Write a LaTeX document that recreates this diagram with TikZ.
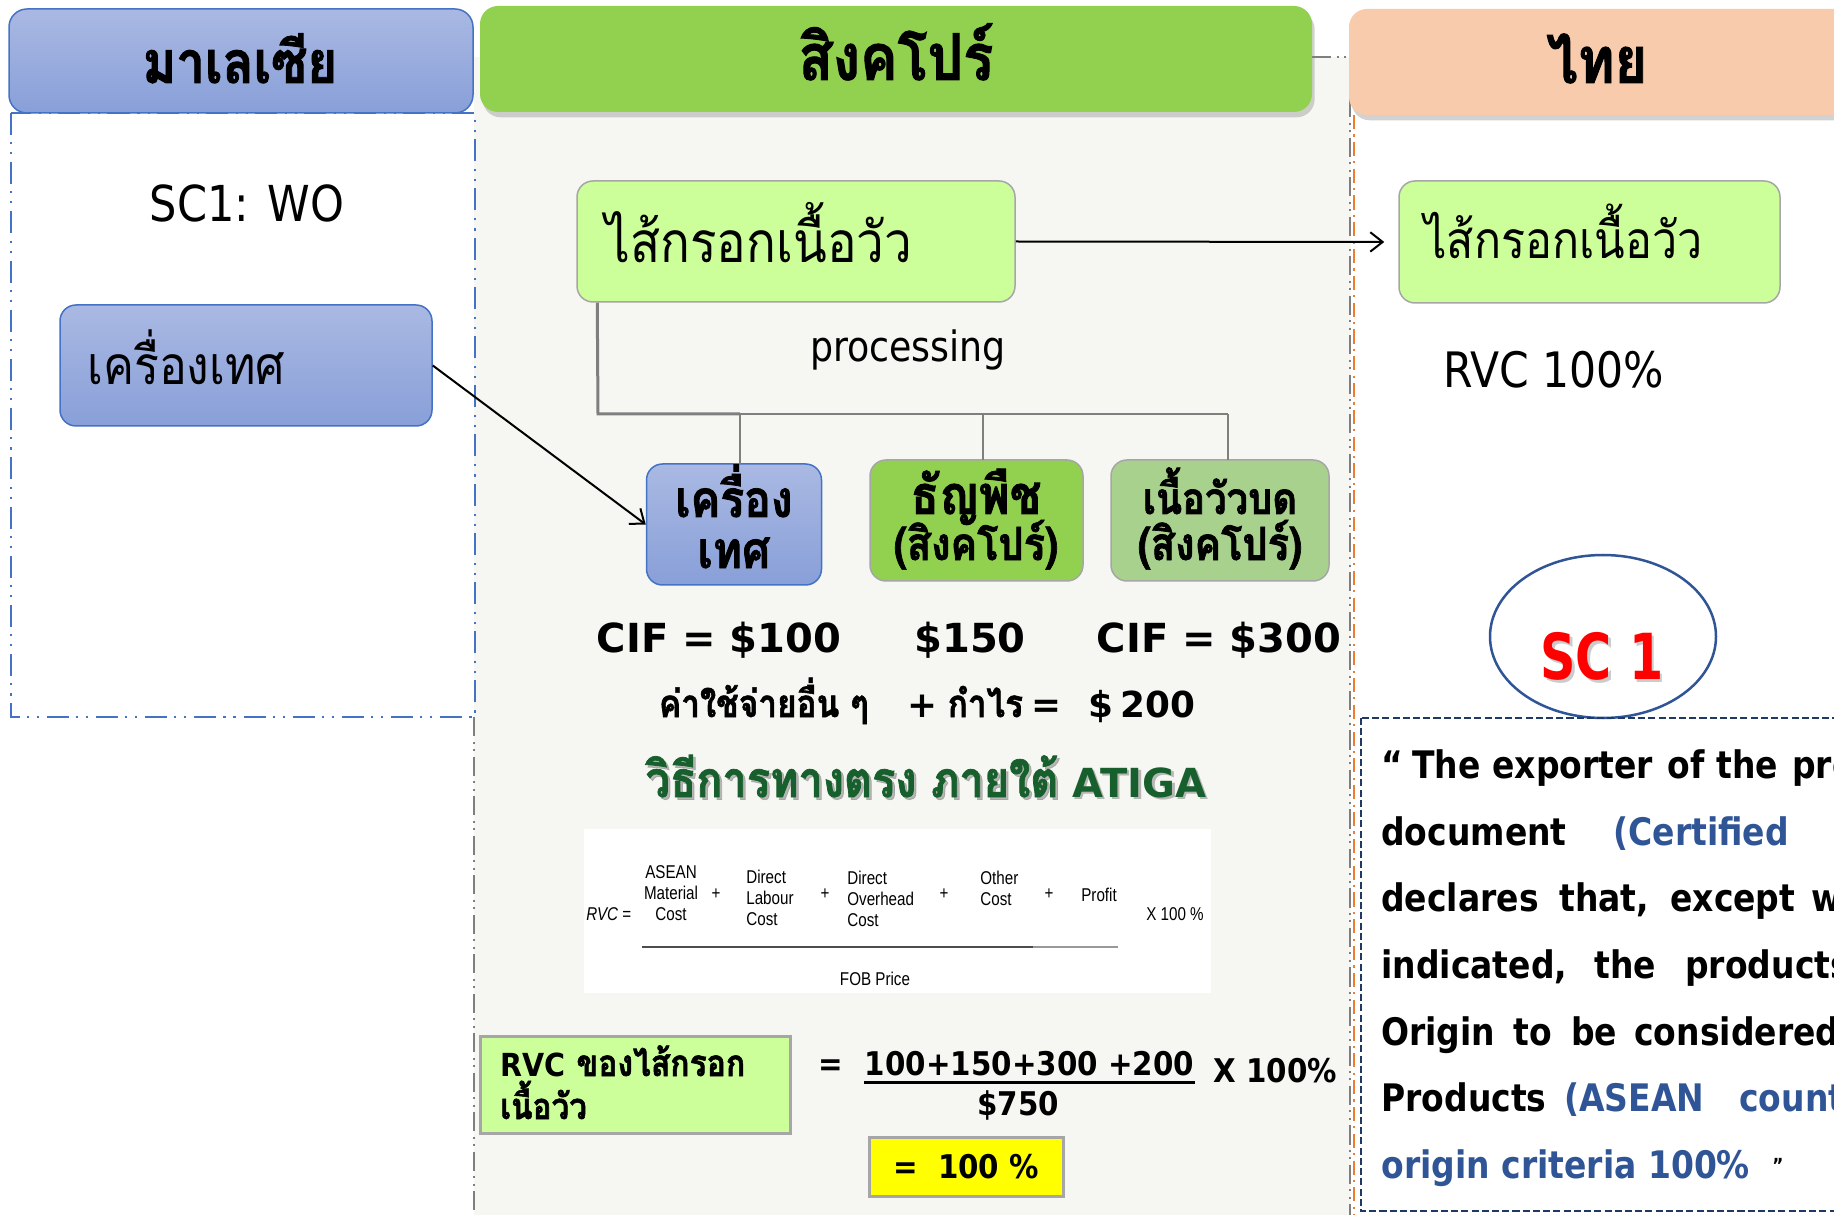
\documentclass[tikz,border=0pt]{standalone}
\usepackage{fontspec}
\usetikzlibrary{arrows.meta,shadows,calc,shapes.geometric}
\setmainfont{DejaVu Sans}
\newfontfamily\thaiF[Script=Thai,FakeStretch=0.87,BoldFeatures={FakeBold=1.5}]{Loma}
\newfontfamily\dvb{DejaVu Sans}
\newfontfamily\dvn[FakeStretch=0.9]{DejaVu Sans}
\newfontfamily\dvc[FakeStretch=0.87]{DejaVu Sans}
\newfontfamily\dvs[FakeStretch=0.775]{DejaVu Sans}
\newfontfamily\nar[FakeStretch=0.82]{Liberation Sans}
\newdimen\PX \PX=0.567pt
\newcommand\fsz[2]{\fontsize{#1pt}{#2pt}\selectfont}
\definecolor{myTop}{HTML}{AAB9E3}
\definecolor{myBot}{HTML}{889FD8}
\definecolor{myLine}{HTML}{4472C4}
\definecolor{sgGreen}{HTML}{92D050}
\definecolor{thPeach}{HTML}{F8CBAD}
\definecolor{limeF}{HTML}{CCFF99}
\definecolor{beefF}{HTML}{A9D18E}
\definecolor{colBg}{HTML}{F6F7F2}
\definecolor{atigaG}{HTML}{17602D}
\definecolor{navyT}{HTML}{2F5597}
\definecolor{navyD}{HTML}{203864}
\definecolor{boxGrey}{HTML}{A6A6A6}
\definecolor{lineGrey}{HTML}{7F7F7F}
\definecolor{orangeL}{HTML}{ED7D31}
\definecolor{yellowF}{HTML}{FFFF00}
\begin{document}
\begin{tikzpicture}[x=0.567pt,y=-0.567pt,
  every node/.style={inner sep=0pt},
  hdr/.style={rounded corners=18*\PX, inner sep=0pt},
  shade/.style={drop shadow={shadow xshift=1.5pt, shadow yshift=-3pt, opacity=0.35}},
  bluebox/.style={draw=myLine, line width=1.5*\PX, top color=myTop, bottom color=myBot, rounded corners=16*\PX},
  limebox/.style={draw=boxGrey, line width=1.5*\PX, fill=limeF, rounded corners=16*\PX},
  bdd/.style={draw=myLine, line width=2*\PX, dash pattern=on 12.5pt off 4pt on 1.2pt off 4.5pt on 1.2pt off 4.5pt},
  gdd/.style={draw=lineGrey, line width=2*\PX, dash pattern=on 11pt off 3pt on 1.2pt off 3pt on 1.2pt off 3pt},
  odd/.style={draw=orangeL, line width=2*\PX, dash pattern=on 8pt off 3pt on 1.2pt off 3pt},
  arr/.style={line width=2*\PX, -{Straight Barb[length=7pt,width=11pt]}},
  tree/.style={draw=lineGrey, line width=1.6*\PX},
  treeT/.style={draw=lineGrey, line width=3*\PX},
  hdrT/.style={anchor=base, font=\thaiF\bfseries\fsz{36.5}{40}},
  pw/.style={anchor=base west, font=\dvc\bfseries\fsz{21.5}{26}},
  pb/.style={pw, text=navyT},
  fm/.style={font=\nar\fsz{10.5}{11.9}}
]
\useasboundingbox (0,0) rectangle (1834,1215);
\clip (0,0) rectangle (1834,1215);
\fill[white] (0,0) rectangle (1834,1215);
\fill[colBg] (474,57) rectangle (1351,1215);
% column frames
\draw[gdd] (474,717) -- (474,1215);
\draw[gdd] (1312,57) -- (1350,57) -- (1350,1215);
\draw[odd] (1354,115) -- (1354,1215);
\draw[bdd] (11,113) rectangle (475,717);
% headers
\node[bluebox, rounded corners=18*\PX, minimum width=464*\PX, minimum height=104*\PX] (myHead) at (241,61) {};
\node[hdr, fill=sgGreen, shade, minimum width=832*\PX, minimum height=106*\PX] (sgHead) at (896,59) {};
\node[hdr, fill=thPeach, shade, minimum width=522*\PX, minimum height=106*\PX] (thHead) at (1610,62) {};
\node[hdrT, font=\thaiF\bfseries\fsz{33.3}{38}] (myHeadT) at (240,83) {มาเลเซีย};
\node[hdrT] (sgHeadT) at (896,80) {สิงคโปร์};
\node[hdrT] (thHeadT) at (1597,83) {ไทย};
% Malaysia column
\node[anchor=base, font=\dvc\fsz{28.1}{34}] (sc1wo) at (247,222) {SC1: WO};
\node[bluebox, minimum width=372*\PX, minimum height=121*\PX] (mySp) at (246,365.5) {};
\node[anchor=base west, font=\thaiF\fsz{30.2}{34}] (mySpT) at (87,385) {เครื่องเทศ};
% Singapore column
\node[limebox, minimum width=438*\PX, minimum height=121*\PX] (sgSaus) at (796,241.5) {};
\node[anchor=base west, font=\thaiF\fsz{32.2}{36}] (sgSausT) at (605,263) {ไส้กรอกเนื้อวัว};
\node[anchor=base, font=\dvc\fsz{23.7}{28}] (proc) at (908,362) {processing};
\coordinate (bus) at (598,414);
\draw[treeT] ([xshift=21*\PX]sgSaus.south west) -- (bus) -- (740,414);
\draw[tree] (740,414) -- (1228,414);
\node[bluebox, minimum width=175*\PX, minimum height=121*\PX] (b1) at (734,524.5) {};
\node[limebox, fill=sgGreen, minimum width=213*\PX, minimum height=121*\PX] (b2) at (976.5,520.5) {};
\node[limebox, fill=beefF, minimum width=218*\PX, minimum height=121*\PX] (b3) at (1220,520.5) {};
\draw[tree] (740,414) -- (740,464);
\draw[tree] (983,414) -- (983,460);
\draw[tree] (1228,414) -- (1228,460);
\node[anchor=base, font=\thaiF\bfseries\fsz{29}{33}] (b1a) at (734,517) {เครื่อง};
\node[anchor=base, font=\thaiF\bfseries\fsz{29}{33}] (b1b) at (734,568) {เทศ};
\node[anchor=base, font=\thaiF\bfseries\fsz{30.5}{34}] (b2a) at (976,514) {ธัญพืช};
\node[anchor=base, font=\thaiF\bfseries\fsz{25.9}{30}] (b2b) at (976,560) {(สิงคโปร์)};
\node[anchor=base, font=\thaiF\bfseries\fsz{24.9}{29}] (b3a) at (1220,514) {เนื้อวัวบด};
\node[anchor=base, font=\thaiF\bfseries\fsz{25.9}{30}] (b3b) at (1220,560) {(สิงคโปร์)};
\draw[arr] (mySp.east) -- (b1.west);
% costs
\node[anchor=base, font=\dvb\bfseries\fsz{22.7}{27}] (cif1) at (719,653) {CIF = \$100};
\node[anchor=base, font=\dvb\bfseries\fsz{22.7}{27}] (c150) at (970,653) {\$150};
\node[anchor=base, font=\dvb\bfseries\fsz{22.7}{27}] (cif3) at (1219,653) {CIF = \$300};
\node[anchor=base, font=\bfseries\fsz{20.3}{24}] (other) at (927,717) {{\thaiF\fsz{21.7}{26}ค่าใช้จ่ายอื่น ๆ}\hspace{22pt}{\dvb +}\hspace{6pt}{\thaiF\fsz{21.7}{26}กำไร}\hspace{5pt}{\dvb =}\hspace{15pt}{\dvb \$}\hspace{4pt}{\dvb 200}};
\node[anchor=base, text=black!45, opacity=0.6, font=\bfseries\fsz{22.7}{27}] (atigaS) at (928.5,799.5) {{\thaiF\fsz{28.2}{32}วิธีการทางตรง ภายใต้} {\dvb ATIGA}};
\node[anchor=base, text=atigaG, font=\bfseries\fsz{22.7}{27}] (atiga) at (926,797) {{\thaiF\fsz{28.2}{32}วิธีการทางตรง ภายใต้} {\dvb ATIGA}};
% formula panel
\fill[white] (584,829) rectangle (1211,993);
\node[fm, anchor=west] (fRVC) at (586,914) {\itshape RVC\upshape\ =};
\node[fm, align=center] (fA) at (671,893) {ASEAN\\Material\\Cost};
\node[fm] (fP1) at (716,894) {+};
\node[fm, align=left, anchor=west] (fB) at (746,898) {Direct\\Labour\\Cost};
\node[fm] (fP2) at (825,894) {+};
\node[fm, align=left, anchor=west] (fC) at (847,899) {Direct\\Overhead\\Cost};
\node[fm] (fP3) at (944,894) {+};
\node[fm, align=left, anchor=west] (fD) at (980,888) {Other\\Cost};
\node[fm] (fP4) at (1049,894) {+};
\node[fm, anchor=west] (fE) at (1081,895) {Profit};
\node[fm, anchor=west] (fX) at (1146,914) {X 100 \%};
\draw[draw=black!70, line width=2.5*\PX] (642,947) -- (1033,947);
\draw[draw=black!40, line width=2.5*\PX] (1033,947) -- (1118,947);
\node[fm] (fFOB) at (875,979) {FOB Price};
% RVC computation
\node[draw=boxGrey, line width=3*\PX, fill=limeF, minimum width=310*\PX, minimum height=97*\PX] (rvcBox) at (635,1085) {};
\node[anchor=base west, font=\bfseries\fsz{18}{22}] (rvcT1) at (500,1076) {{\dvn RVC} {\thaiF\fsz{20.8}{25}ของไส้กรอก}};
\node[anchor=base west, font=\thaiF\bfseries\fsz{20.5}{25}] (rvcT2) at (500,1119) {เนื้อวัว};
\node[anchor=base, font=\dvn\bfseries\fsz{18.5}{22}] (eq1) at (831,1075) {=};
\node[anchor=base, font=\dvn\bfseries\fsz{18.5}{22}] (num) at (1029.5,1075) {100+150+300 +200};
\draw[line width=3*\PX] (864,1082) -- (1195,1082);
\node[anchor=base west, font=\dvn\bfseries\fsz{18.5}{22}] (x100) at (1213,1082) {X 100\%};
\node[anchor=base, font=\dvn\bfseries\fsz{18.5}{22}] (den) at (1018,1115) {\$750};
\node[draw=boxGrey, line width=3*\PX, fill=yellowF, minimum width=194*\PX, minimum height=59*\PX] (yBox) at (966,1166.5) {};
\node[anchor=base, font=\dvn\bfseries\fsz{18.5}{22}] (yT) at (966,1178) {=\ \ 100 \%};
% Thailand column
\node[limebox, minimum width=381*\PX, minimum height=122*\PX] (thSaus) at (1589.5,242) {};
\node[anchor=base west, font=\thaiF\fsz{29.2}{34}] (thSausT) at (1424,259) {ไส้กรอกเนื้อวัว};
\draw[arr, shorten >=14*\PX] (sgSaus.east) -- (thSaus.west);
\node[anchor=base west, font=\dvc\fsz{27.7}{33}] (rvc100) at (1443,388) {RVC 100\%};
\node[draw=navyT, line width=2.5*\PX, ellipse, minimum width=226*\PX, minimum height=163*\PX] (sc1E) at (1603,636.5) {};
\node[anchor=base, text=black!40, opacity=0.5, font=\dvs\bfseries\fsz{36}{40}] (sc1S) at (1604.5,682) {SC 1};
\node[anchor=base, text=red, font=\dvs\bfseries\fsz{36}{40}] (sc1T) at (1602,680) {SC 1};
\draw[navyD, line width=1.5*\PX, dash pattern=on 4pt off 1.8pt] (1361,718) rectangle (1900,1211);
% paragraph
\node[pw] (w11) at (1381,778) {“};
\node[pw] (w12) at (1412,778) {The};
\node[pw] (w13) at (1492,778) {exporter};
\node[pw] (w14) at (1667,778) {of};
\node[pw] (w15) at (1716,778) {the};
\node[pw] (w16) at (1792,778) {pro};
\node[pw] (w21) at (1381,845) {document};
\node[pb] (w22) at (1613,845) {(Certified};
\node[pw] (w31) at (1381,911) {declares};
\node[pw] (w32) at (1559,911) {that,};
\node[pw] (w33) at (1670,911) {except};
\node[pw] (w34) at (1811,911) {w};
\node[pw] (w41) at (1381,978) {indicated,};
\node[pw] (w42) at (1594,978) {the};
\node[pw] (w43) at (1685,978) {products};
\node[pw] (w51) at (1381,1045) {Origin};
\node[pw] (w52) at (1513,1045) {to};
\node[pw] (w53) at (1571,1045) {be};
\node[pw] (w54) at (1634,1045) {considered};
\node[pw] (w61) at (1381,1111) {Products};
\node[pb] (w62) at (1564,1111) {(ASEAN};
\node[pb] (w63) at (1739,1111) {count};
\node[pb] (w71) at (1381,1178) {origin criteria 100\%};
\node[anchor=base west, font=\dvc\bfseries\fsz{11}{13}] (w72) at (1772,1172) {”};
\end{tikzpicture}
\end{document}
